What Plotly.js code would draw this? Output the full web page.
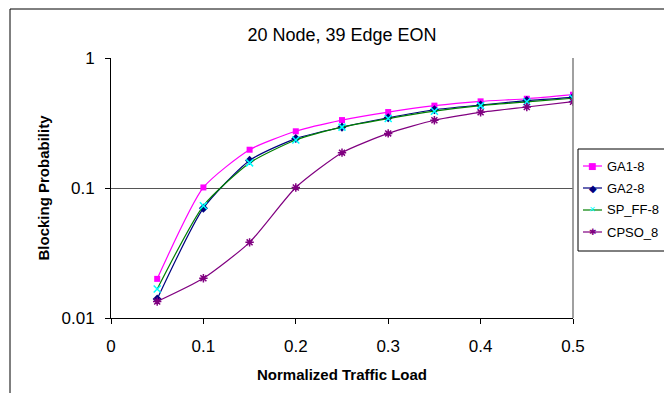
<!DOCTYPE html>
<html>
<head>
<meta charset="utf-8">
<script src="https://cdn.plot.ly/plotly-3.0.1.min.js"></script>
<style>html,body{margin:0;padding:0;background:#fff;overflow:hidden;}#chart{width:664px;height:393px;}</style>
</head>
<body>
<div id="chart"></div>
<script>
const load = [0.05, 0.1, 0.15, 0.2, 0.25, 0.3, 0.35, 0.4, 0.45, 0.5];
const ga1 = [0.020, 0.101, 0.197, 0.273, 0.333, 0.384, 0.43, 0.464, 0.486, 0.522];
const ga2 = [0.014, 0.070, 0.163, 0.240, 0.294, 0.347, 0.40, 0.435, 0.470, 0.498];
const spff = [0.0167, 0.073, 0.156, 0.234, 0.294, 0.342, 0.39, 0.43, 0.46, 0.49];
const cpso = [0.0134, 0.0202, 0.0382, 0.101, 0.187, 0.263, 0.332, 0.382, 0.42, 0.461];
const names = ['GA1-8', 'GA2-8', 'SP_FF-8', 'CPSO_8'];
const yTicks = [0.01, 0.1, 1];
const yTickText = ['0.01', '0.1', '1'];
const xTicks = [0, 0.1, 0.2, 0.3, 0.4, 0.5];
const xTickText = ['0', '0.1', '0.2', '0.3', '0.4', '0.5'];

const F = '"Liberation Sans", Arial, sans-serif';
const lineCols = ['#FF00FF', '#000080', '#008000', '#800080'];
const markCols = ['#FF00FF', '#000080', '#00FFFF', '#800080'];
const glyphs = ['\u25A0', '\u25C6', '\u2715', '\u2731'];
const glyphSizes = [9, 10, 8, 9];

const traces = [
  {x: load, y: ga1, name: names[0], mode: 'lines+markers',
   line: {color: lineCols[0], width: 1.2, shape: 'spline', smoothing: 0.6},
   marker: {symbol: 'square', size: 6, color: markCols[0]}},
  {x: load, y: ga2, name: names[1], mode: 'lines+markers',
   line: {color: lineCols[1], width: 1.2, shape: 'spline', smoothing: 0.6},
   marker: {symbol: 'diamond', size: 7, color: markCols[1]}},
  {x: load, y: spff, name: names[2], mode: 'lines+markers',
   line: {color: lineCols[2], width: 1.2, shape: 'spline', smoothing: 0.6},
   marker: {symbol: 'x-thin-open', size: 7, color: markCols[2], line: {color: markCols[2], width: 1.5}}},
  {x: load, y: cpso, name: names[3], mode: 'lines+markers',
   line: {color: lineCols[3], width: 1.2, shape: 'spline', smoothing: 0.6},
   marker: {symbol: 'asterisk-open', size: 7, color: markCols[3], line: {color: markCols[3], width: 1.5}}}
];

// pixel -> paper helpers for the hand-drawn legend (plot area: x 111..573, y 58..318)
const L = 111, R = 91, T = 58, B = 75, W = 664, H = 393;
const pw = W - L - R, ph = H - T - B;
const px = v => (v - L) / pw;
const py = v => (H - B - v) / ph;

const shapes = [
  {type: 'line', xref: 'paper', yref: 'paper', x0: 1, x1: 1, y0: 0, y1: 1,
   line: {color: '#808080', width: 1.5}},
  {type: 'rect', xref: 'paper', yref: 'paper', x0: px(10), x1: px(700), y0: py(420), y1: py(9),
   line: {color: '#000', width: 1}},
  {type: 'rect', xref: 'paper', yref: 'paper', x0: px(578), x1: px(680), y0: py(251), y1: py(149),
   line: {color: '#000', width: 1}, fillcolor: '#fff', layer: 'above'}
];
const annotations = [];
const entryY = [166, 188, 210, 232];
names.forEach((n, i) => {
  shapes.push({type: 'line', xref: 'paper', yref: 'paper', x0: px(583), x1: px(602), y0: py(entryY[i]), y1: py(entryY[i]),
    line: {color: lineCols[i], width: 1.2}});
  annotations.push({xref: 'paper', yref: 'paper', x: px(592.5), y: py(entryY[i]), text: glyphs[i],
    showarrow: false, xanchor: 'center', yanchor: 'middle',
    font: {family: 'DejaVu Sans', size: glyphSizes[i], color: markCols[i]}});
  annotations.push({xref: 'paper', yref: 'paper', x: px(605), y: py(entryY[i]), text: n,
    showarrow: false, xanchor: 'left', yanchor: 'middle',
    font: {family: F, size: 13, color: '#000'}});
});

const layout = {
  width: W, height: H,
  margin: {l: L, r: R, t: T, b: B, pad: 0},
  paper_bgcolor: '#ffffff', plot_bgcolor: '#ffffff',
  font: {family: F, color: '#000'},
  showlegend: false,
  title: {text: '20 Node, 39 Edge EON', font: {family: F, size: 18, color: '#000'},
          x: (342 / W), xanchor: 'center', y: 0.912, yanchor: 'middle'},
  xaxis: {
    range: [0, 0.5], tickvals: xTicks, ticktext: xTickText,
    showgrid: false, zeroline: false, showline: true, linecolor: '#000', linewidth: 1,
    ticks: 'outside', ticklen: 5, tickcolor: '#000', ticklabelstandoff: 8,
    tickfont: {family: F, size: 17, color: '#000'},
    title: {text: '<b>Normalized Traffic Load</b>', font: {family: F, size: 15, color: '#000'}, standoff: 14}
  },
  yaxis: {
    type: 'log', range: [-2, 0], tickvals: yTicks, ticktext: yTickText,
    showgrid: true, gridcolor: '#555', gridwidth: 1, zeroline: false,
    showline: true, linecolor: '#000', linewidth: 1,
    ticks: 'outside', ticklen: 5, tickcolor: '#000', ticklabelstandoff: 7,
    tickfont: {family: F, size: 17, color: '#000'},
    title: {text: '<b>Blocking Probability</b>', font: {family: F, size: 15, color: '#000'}, standoff: 8}
  },
  shapes: shapes,
  annotations: annotations
};

Plotly.newPlot('chart', traces, layout, {displayModeBar: false, staticPlot: true});
</script>
</body>
</html>
